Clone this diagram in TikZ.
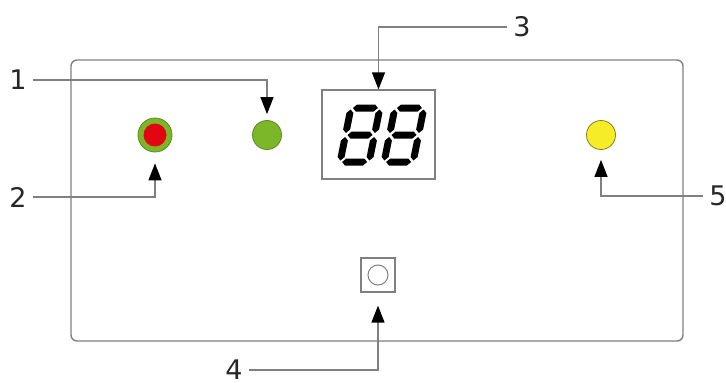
\documentclass[tikz,border=0pt]{standalone}
\usepackage{fontspec}
\setmainfont{DejaVu Sans}
\usetikzlibrary{arrows.meta}
\definecolor{ledgreen}{RGB}{124,183,42}
\definecolor{ledred}{RGB}{226,6,19}
\definecolor{ledyellow}{RGB}{246,236,40}
\definecolor{wire}{RGB}{128,128,128}
\def\segdigit(#1,#2){%
  \begin{scope}[shift={(#1,#2)},xslant=0.2]
    \foreach \yy in {-27,0,27}
      \fill (-12.5,\yy) -- (-9,\yy-3.5) -- (9,\yy-3.5) -- (12.5,\yy) -- (9,\yy+3.5) -- (-9,\yy+3.5) -- cycle;
    \foreach \xx in {-14.5,14.5}
      \foreach \ya/\yb in {-25.5/-2,2/25.5}
        \fill (\xx,\ya) -- (\xx+3.5,\ya+3.5) -- (\xx+3.5,\yb-3.5) -- (\xx,\yb) -- (\xx-3.5,\yb-3.5) -- (\xx-3.5,\ya+3.5) -- cycle;
  \end{scope}}

\begin{document}
\begin{tikzpicture}[x=1pt,y=-1pt,
    tag/.style={inner xsep=6pt,inner ysep=0pt,text=black!85,font=\fontsize{27}{30}\selectfont},
    lamp/.style={circle,inner sep=0pt,minimum size=29pt,line width=0.8pt},
    callout/.style={draw=wire,line width=1.3pt,-{Triangle[length=17pt,width=13pt,black]}}]
			%%%%% START %%%%%
			\useasboundingbox (0,0) rectangle (726,383);
			
			\draw[draw=wire,line width=1.4pt,rounded corners=6pt] (71,60) rectangle (683,341);
			
			\node[lamp,minimum size=34pt,fill=ledgreen,draw=ledgreen!75!black] (led2) at (155,135) {};
			\node[circle,inner sep=0pt,minimum size=23pt,fill=ledred] (led2core) at (led2) {};
			\node[lamp,fill=ledgreen,draw=ledgreen!75!black] (led1) at (267,135) {};
			\node[lamp,fill=ledyellow,draw=ledyellow!55!black] (led5) at (601,135) {};
			
			\node[draw=wire,line width=1.2pt,minimum width=113pt,minimum height=89pt,inner sep=0pt] (disp) at (378.5,134.5) {};
			\segdigit(360,135)
			\segdigit(404,135)
			
			\node[draw=wire,line width=1.2pt,minimum size=34pt,inner sep=0pt] (btn) at (378,275) {};
			\node[circle,draw=wire,line width=1pt,minimum size=20pt,inner sep=0pt] (btncap) at (btn) {};
			
			\node[tag] (n1) at (18,80) {1};
			\node[tag] (n2) at (18,197) {2};
			\node[tag] (n3) at (522,27) {3};
			\node[tag] (n4) at (234,370) {4};
			\node[tag] (n5) at (718,196) {5};
			
			\draw[callout,shorten >=6pt] (n1) -| (led1);
			\draw[callout,shorten >=11pt] (n2) -| (led2);
			\draw[callout] (n3) -| (disp);
			\draw[callout,shorten >=13pt] (n4) -| (btn);
			\draw[callout,shorten >=10pt] (n5) -| (led5);
			
			%%%%% END %%%%%
\end{tikzpicture}
\end{document}
